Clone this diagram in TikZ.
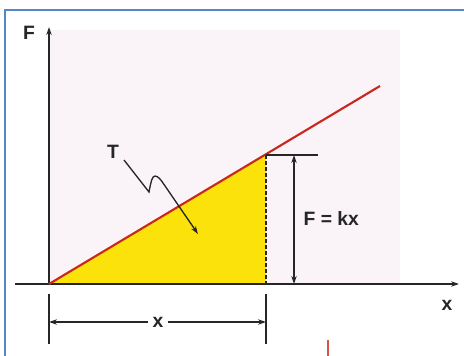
\documentclass[tikz,border=0pt]{standalone}
\usepackage{fontspec}
\setmainfont{Liberation Sans}
\usetikzlibrary{arrows.meta}
\definecolor{frameblue}{RGB}{85,135,200}
\definecolor{linered}{RGB}{200,40,30}
\definecolor{areayellow}{RGB}{250,226,10}
\definecolor{bgpink}{RGB}{250,244,249}
\tikzset{
  axis/.style={line width=1.4pt, black!85, -{Stealth[length=6pt,width=4pt]}},
  dimline/.style={line width=1pt, black!85, {Stealth[length=6pt,width=4pt]}-{Stealth[length=6pt,width=4pt]}},
  tick/.style={line width=1pt, black!85},
  lbl/.style={font=\bfseries\fontsize{14.5}{16}\selectfont, inner sep=1pt, black!85},
}
\begin{document}
\begin{tikzpicture}[x=0.75pt,y=-0.75pt]
\useasboundingbox (0,0) rectangle (464,356);
\fill[white] (0,0) rectangle (464,356);
% faint background tint
\fill[bgpink] (50,30) rectangle (400,283);
% frame
\draw[frameblue, line width=1.8pt] (5,356) -- (5,10) -- (464,10);
% coordinates
\coordinate (O) at (49,284);
\coordinate (P) at (266,155);
\coordinate (B) at (266,284);
\coordinate (Rend) at (380,86);
% yellow area
\fill[areayellow] (O) -- (P) -- (B) -- cycle;
% axes
\coordinate (xs) at (15,284);
\coordinate (xe) at (459,284);
\coordinate (ys) at (49,284);
\coordinate (ye) at (49,27);
\draw[axis] (xs) -- (xe);
\draw[axis] (ys) -- (ye);
% red line
\draw[linered, line width=1.6pt] (O) -- (Rend);
% dashed vertical
\draw[black!85, line width=1pt, dash pattern=on 3pt off 1.5pt] (P) -- (B);
% top tick
\coordinate (Pt) at (318,155);
\draw[tick] (P) -- (Pt);
% F = kx dimension
\coordinate (fa) at (294,155);
\coordinate (fb) at (294,284);
\draw[dimline] (fa) -- (fb);
\node[lbl, anchor=west] (fkx) at (302,218) {F = kx};
% bottom dimension
\coordinate (t1a) at (49,294);
\coordinate (t1b) at (49,344);
\coordinate (t2a) at (266,294);
\coordinate (t2b) at (266,344);
\draw[tick] (t1a) -- (t1b);
\draw[tick] (t2a) -- (t2b);
\node[lbl, fill=white, inner xsep=3pt] (xd) at (158,322) {x};
\coordinate (dl) at (49,322);
\coordinate (dr) at (266,322);
\draw[dimline, -{Stealth[length=6pt,width=4pt]}] (xd.west) -- (dl);
\draw[dimline, -{Stealth[length=6pt,width=4pt]}] (xd.east) -- (dr);
% axis labels
\node[lbl] (Flab) at (29,33) {F};
\node[lbl] (xlab) at (447,305) {x};
% T and squiggle
\node[lbl] (T) at (113,152) {T};
\coordinate (tip) at (198,234);
\draw[black!85, line width=1pt, -{Stealth[length=6pt,width=4pt]}]
  (124,160) -- (149,192) .. controls (151,182) and (152,176) .. (155,176)
  .. controls (158,176) and (161,180) .. (163,183) -- (tip);
% small red mark at bottom
\draw[linered!80, line width=1pt] (328,340) -- (328,356);
\end{tikzpicture}
\end{document}
